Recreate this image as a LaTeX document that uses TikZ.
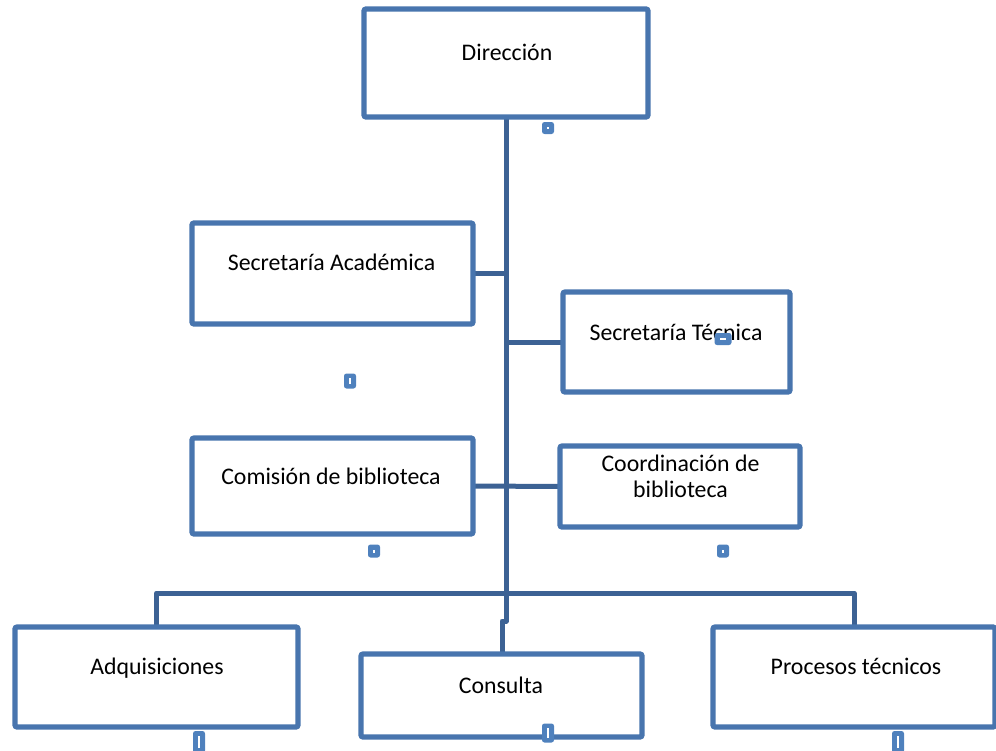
\documentclass[tikz,border=0pt]{standalone}
\usepackage{fontspec}
\setmainfont{Carlito}
\usetikzlibrary{backgrounds}
\definecolor{boxc}{RGB}{72,117,174}
\definecolor{connc}{RGB}{60,98,148}
\definecolor{handc}{RGB}{79,129,189}
\begin{document}
\begin{tikzpicture}[x=1bp,y=-1bp,
  box/.style={draw=boxc, line width=5.2bp, fill=white, rounded corners=2bp, inner sep=0pt, outer sep=0pt},
  lbl/.style={font=\fontsize{23.8bp}{26bp}\selectfont, inner sep=0pt, anchor=base, text=black},
  conn/.style={draw=connc, line width=5bp, line join=round},
  handle/.style={fill=handc, draw=none, rounded corners=2.5bp, inner sep=0pt, outer sep=0pt},
  handlemark/.style={draw=white, line width=1.1bp}]
\useasboundingbox (0,0) rectangle (996,751);
% boxes
\node[box, minimum width=284bp, minimum height=108bp] (dir)   at (506,63)    {};
\node[box, minimum width=281bp, minimum height=101bp] (secA)  at (332.5,273.5) {};
\node[box, minimum width=227bp, minimum height=100bp] (secT)  at (676.5,342) {};
\node[box, minimum width=281bp, minimum height=96bp]  (com)   at (332.5,486) {};
\node[box, minimum width=240bp, minimum height=81bp]  (coord) at (680,486.5) {};
\node[box, minimum width=283bp, minimum height=100bp] (adq)   at (156.5,677) {};
\node[box, minimum width=281bp, minimum height=83bp]  (cons)  at (501.5,695.5) {};
\node[box, minimum width=282bp, minimum height=100bp] (proc)  at (854,677) {};
% labels
\node[lbl] (tdir)   at (507,61)    {Dirección};
\node[lbl] (tsecA)  at (331.5,270) {Secretaría Académica};
\node[lbl] (tsecT)  at (676,340)   {Secretaría Técnica};
\node[lbl] (tcom)   at (331,484)   {Comisión de biblioteca};
\node[lbl] (tcoA)   at (680.5,471) {Coordinación de};
\node[lbl] (tcoB)   at (680.5,497) {biblioteca};
\node[lbl] (tadq)   at (157,674)   {Adquisiciones};
\node[lbl] (tcons)  at (501,693)   {Consulta};
\node[lbl] (tproc)  at (856,674)   {Procesos técnicos};
% connectors
\coordinate (j1) at (506,621);
\coordinate (j2) at (502,621);
\coordinate (bus) at (506,593);
\begin{scope}[on background layer]
\draw[conn] (dir.south) -- (j1) -- (j2) -- (cons.north -| j2);
\draw[conn] (secA.east) -- (secA.east -| dir.south);
\draw[conn] (secT.west -| dir.south) -- (secT.west);
\draw[conn] (com.east) -- (coord.west);
\draw[conn] (adq.north) -- (adq.north |- bus) -- (proc.north |- bus) -- (proc.north);
\end{scope}
% handles
\node[handle, minimum width=12bp, minimum height=12bp] (h1) at (548,128) {};
\node[handle, minimum width=12bp, minimum height=15bp] (h2) at (350,381) {};
\node[handle, minimum width=12bp, minimum height=13bp] (h3) at (374,551) {};
\node[handle, minimum width=12bp, minimum height=13bp] (h4) at (723,551) {};
\node[handle, minimum width=17bp, minimum height=12bp] (h5) at (723,339) {};
\node[handle, minimum width=12bp, minimum height=22bp] (h6) at (199,742) {};
\node[handle, minimum width=12bp, minimum height=19bp] (h7) at (548,733) {};
\node[handle, minimum width=12bp, minimum height=22bp] (h8) at (898,742) {};
\draw[handlemark] ([yshift=-1bp]h1.center) -- ([yshift=1bp]h1.center);
\draw[handlemark] ([yshift=-3bp]h2.center) -- ([yshift=3bp]h2.center);
\draw[handlemark] ([yshift=-1.5bp]h3.center) -- ([yshift=1.5bp]h3.center);
\draw[handlemark] ([yshift=-1.5bp]h4.center) -- ([yshift=1.5bp]h4.center);
\draw[handlemark] ([xshift=-3bp]h5.center) -- ([xshift=3bp]h5.center);
\draw[handlemark] ([yshift=-6bp]h6.center) -- ([yshift=6bp]h6.center);
\draw[handlemark] ([yshift=-5bp]h7.center) -- ([yshift=5bp]h7.center);
\draw[handlemark] ([yshift=-6bp]h8.center) -- ([yshift=6bp]h8.center);
\end{tikzpicture}
\end{document}
